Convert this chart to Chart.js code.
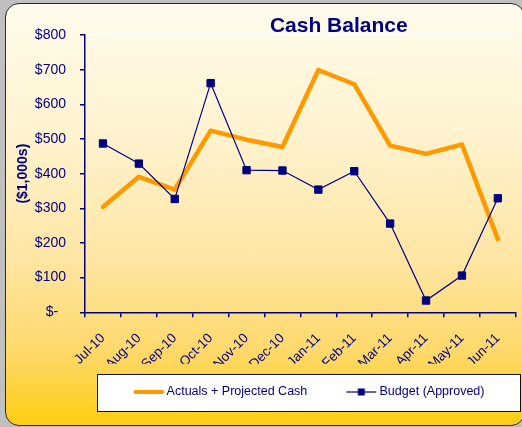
<!DOCTYPE html>
<html>
<head>
<meta charset="utf-8">
<script src="https://cdn.jsdelivr.net/npm/chart.js@4.4.1/dist/chart.umd.min.js"></script>
<style>
  body {
    margin: 0;
    width: 522px;
    height: 427px;
    overflow: hidden;
    position: relative;
    background: #c0c0c0;
  }
  #frame {
    position: absolute;
    left: 5px;
    top: 3px;
    width: 520px;
    height: 423px;
    box-sizing: border-box;
    border: 1.5px solid #2a2a2a;
    border-radius: 14px;
    background: linear-gradient(to bottom, #fffbec 0%, #fff3d0 30%, #fee6a4 60%, #fed96c 82%, #ffcd12 100%);
  }
  #legendBox {
    position: absolute;
    left: 97px;
    top: 374px;
    width: 424px;
    height: 38px;
    box-sizing: border-box;
    background: #ffffff;
    border: 1.5px solid #111111;
  }
  #cashChart {
    position: absolute;
    left: 0;
    top: 0;
  }
</style>
</head>
<body>
<div id="frame"></div>
<div id="legendBox"></div>
<canvas id="cashChart" width="522" height="427"></canvas>
<script>
var chartTitle = "Cash Balance";
var yAxisTitle = "($1,000s)";

var months = ["Jul-10", "Aug-10", "Sep-10", "Oct-10", "Nov-10", "Dec-10",
              "Jan-11", "Feb-11", "Mar-11", "Apr-11", "May-11", "Jun-11"];

var actualsLabel = "Actuals + Projected Cash";
var actuals = [304, 391, 354, 524, 498, 477, 699, 658, 481, 457, 484, 211];

var budgetLabel = "Budget (Approved)";
var budget = [487, 429, 327, 661, 410, 409, 354, 407, 256, 34, 106, 329];

var yTickValues = [0, 100, 200, 300, 400, 500, 600, 700, 800];

var navy = "#000080";
var orange = "#ff9900";
var fontFamily = "'Liberation Sans', Arial, sans-serif";

// little canvases used as legend samples (line, or line + square marker)
function legendSample(color, width, marker) {
  var c = document.createElement("canvas");
  c.width = 54;
  c.height = 10;
  var g = c.getContext("2d");
  g.strokeStyle = color;
  g.lineWidth = width;
  g.lineCap = marker ? "butt" : "round";
  g.beginPath();
  g.moveTo(marker ? 22 : 24, 5);
  g.lineTo(marker ? 52 : 51, 5);
  g.stroke();
  if (marker) {
    g.fillStyle = color;
    g.fillRect(33.5, 1.5, 7, 7);
  }
  return c;
}

var legendSamples = [legendSample(orange, 4, false), legendSample(navy, 1.2, true)];

// title drawn over the plot area, a bit right of centre like the original
var titlePlugin = {
  id: "cashTitle",
  afterDraw: function (chart) {
    var ctx = chart.ctx;
    var area = chart.chartArea;
    ctx.save();
    ctx.font = "bold 21px " + fontFamily;
    ctx.fillStyle = navy;
    ctx.textAlign = "center";
    ctx.textBaseline = "alphabetic";
    ctx.fillText(chartTitle, area.left + area.width * 0.589, 32);
    ctx.restore();
  }
};

var config = {
  type: "line",
  data: {
    labels: months,
    datasets: [
      {
        label: actualsLabel,
        data: actuals,
        borderColor: orange,
        backgroundColor: orange,
        borderWidth: 4.5,
        borderJoinStyle: "round",
        borderCapStyle: "round",
        pointRadius: 0,
        tension: 0,
        order: 1
      },
      {
        label: budgetLabel,
        data: budget,
        borderColor: navy,
        backgroundColor: navy,
        borderWidth: 1.2,
        pointStyle: "rect",
        pointRadius: 5.2,
        pointBorderWidth: 1,
        pointBackgroundColor: navy,
        pointBorderColor: navy,
        tension: 0,
        order: 0
      }
    ]
  },
  options: {
    responsive: false,
    animation: false,
    layout: {
      padding: { top: 35, left: 10, right: 2, bottom: 18.75 }
    },
    plugins: {
      title: { display: false },
      tooltip: { enabled: false },
      legend: {
        position: "bottom",
        fullSize: false,
        labels: {
          usePointStyle: true,
          pointStyleWidth: 44,
          padding: 22,
          color: navy,
          font: { family: fontFamily, size: 12.5 },
          generateLabels: function (chart) {
            return chart.data.datasets.map(function (ds, i) {
              return {
                text: ds.label,
                pointStyle: legendSamples[i],
                fontColor: navy,
                fillStyle: "rgba(0,0,0,0)",
                strokeStyle: "rgba(0,0,0,0)",
                lineWidth: 0,
                hidden: false,
                datasetIndex: i
              };
            });
          }
        }
      }
    },
    scales: {
      x: {
        offset: true,
        grid: {
          offset: true,
          drawOnChartArea: true,
          color: function (c) {
            return c.index === months.length ? "#ffffff" : "rgba(0,0,0,0)";
          },
          lineWidth: 1.5,
          tickColor: navy,
          tickLength: 5
        },
        border: { color: navy, width: 1.5 },
        ticks: {
          autoSkip: false,
          minRotation: 45,
          maxRotation: 45,
          padding: 13,
          color: navy,
          font: { family: fontFamily, size: 13.5 }
        },
        afterFit: function (s) {
          s.height = 51.45;
          s.paddingRight = 0;
        }
      },
      y: {
        min: yTickValues[0],
        max: yTickValues[yTickValues.length - 1],
        grid: {
          color: function (c) {
            return c.tick && c.tick.value === yTickValues[yTickValues.length - 1] ? "#ffffff" : "rgba(0,0,0,0)";
          },
          lineWidth: 1.5,
          tickColor: navy,
          tickLength: 5
        },
        border: { color: navy, width: 1.5 },
        ticks: {
          stepSize: yTickValues[1] - yTickValues[0],
          padding: 14,
          color: navy,
          font: { family: fontFamily, size: 14 },
          callback: function (v) {
            return v === 0 ? "$-  " : "$" + v;
          }
        },
        title: {
          display: true,
          text: yAxisTitle,
          color: navy,
          padding: { top: 5, bottom: 0 },
          font: { family: fontFamily, size: 14, weight: "bold" }
        },
        afterFit: function (s) {
          s.width = 75;
        }
      }
    }
  },
  plugins: [titlePlugin]
};

var cashChart = new Chart(document.getElementById("cashChart"), config);
</script>
</body>
</html>
